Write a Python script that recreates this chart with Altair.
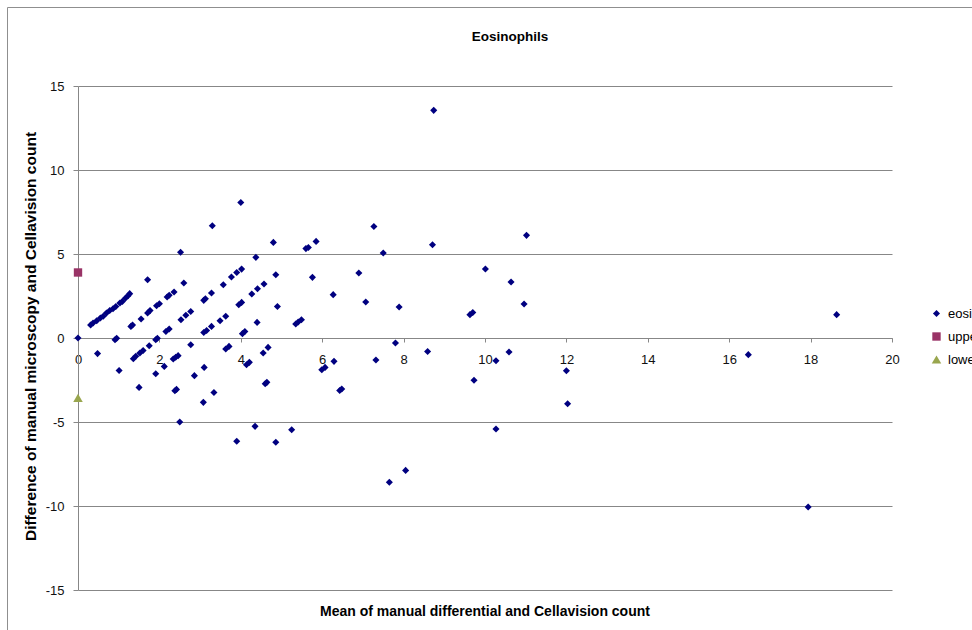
import altair as alt
import pandas as pd

# ---- data ----
eos_mean = [
    0.00, 1.71,
    0.31, 0.37, 0.46, 0.55, 0.62, 0.70, 0.78, 0.86, 0.93, 1.03, 1.09, 1.17, 1.23, 1.27,
    0.91, 0.95, 1.30, 1.34, 1.55, 1.71, 1.77, 1.93, 2.00, 2.19, 2.24, 2.36, 2.60,
    1.36, 1.42, 1.52, 1.60, 1.75, 1.91, 1.95, 2.16, 2.24, 2.53, 2.65, 2.77, 3.09, 3.13,
    3.28, 3.57, 3.77, 3.90, 4.02,
    1.91, 2.12, 2.34, 2.40, 2.46, 2.77, 3.09, 3.16, 3.28, 3.49, 3.63, 3.95, 4.02, 4.27,
    4.41, 4.57, 4.86,
    3.63, 3.71, 4.04, 4.10, 4.40, 4.90,
    0.48, 1.01, 1.50, 2.38, 2.42, 2.50, 2.86, 3.10, 3.08, 3.34, 4.14, 4.21, 3.90, 4.35,
    4.00, 3.30, 2.52, 4.37, 4.80, 5.85, 5.60, 5.66, 7.27, 7.50, 8.71, 5.76, 6.90, 6.27,
    7.07, 7.89, 5.35, 5.41, 5.49, 7.80, 8.59, 4.55, 4.67, 6.29, 7.32, 5.99, 6.07, 4.60,
    4.64, 6.48, 6.43, 4.86, 5.25, 7.65, 8.05, 8.74, 11.02, 10.01, 10.64, 10.96, 9.63,
    9.70, 10.59, 10.27, 9.73, 12.00, 12.03, 10.27, 18.64, 16.47, 17.94,
]
eos_diff = [
    0.00, 3.47,
    0.77, 0.89, 1.03, 1.19, 1.29, 1.49, 1.64, 1.74, 1.88, 2.08, 2.18, 2.38, 2.52, 2.64,
    -0.10, -0.02, 0.69, 0.77, 1.13, 1.49, 1.63, 1.92, 2.04, 2.44, 2.54, 2.74, 3.27,
    -1.23, -1.09, -0.89, -0.74, -0.46, -0.10, -0.02, 0.39, 0.54, 1.09, 1.35, 1.58, 2.24, 2.34,
    2.68, 3.17, 3.63, 3.90, 4.10,
    -2.13, -1.69, -1.25, -1.15, -1.05, -0.40, 0.33, 0.45, 0.69, 1.03, 1.29, 1.98, 2.12, 2.62,
    2.93, 3.21, 3.77,
    -0.65, -0.50, 0.26, 0.39, 0.93, 1.88,
    -0.93, -1.93, -2.94, -3.14, -3.06, -5.00, -2.24, -1.75, -3.83, -3.24, -1.59, -1.45, -6.15, -5.26,
    8.07, 6.68, 5.10, 4.80, 5.69, 5.75, 5.32, 5.39, 6.64, 5.06, 5.55, 3.61, 3.87, 2.58,
    2.14, 1.85, 0.83, 0.95, 1.09, -0.30, -0.80, -0.89, -0.56, -1.39, -1.31, -1.89, -1.75, -2.72,
    -2.64, -3.04, -3.12, -6.21, -5.46, -8.59, -7.88, 13.55, 6.11, 4.11, 3.33, 2.02, 1.39,
    1.52, -0.83, -1.35, -2.52, -1.95, -3.91, -5.42, 1.39, -0.99, -10.06,
]
limit_names = ["upper limit", "lower limit"]
limit_mean = [0.0, 0.0]
limit_diff = [3.90, -3.57]

series_names = ["eosinophils", "upper limit", "lower limit"]
series_colors = ["#000080", "#993366", "#99A64E"]
series_shapes = ["diamond", "square", "triangle-up"]
series_sizes = [50, 90, 110]

y_ticks = [-15, -10, -5, 0, 5, 10, 15]
x_ticks = [0, 2, 4, 6, 8, 10, 12, 14, 16, 18, 20]

chart_title = "Eosinophils"
x_title = "Mean of manual differential and Cellavision count"
y_title = "Difference of manual microscopy and Cellavision count"

# ---- build tables ----
df = pd.DataFrame({
    "mean": eos_mean + limit_mean,
    "diff": eos_diff + limit_diff,
    "series": ["eosinophils"] * len(eos_mean) + limit_names,
})

W, H = 814, 504
GRID = "#878787"
FONT = "Liberation Sans"

x_scale = alt.Scale(domain=[0, 20], nice=False, zero=False)
y_scale = alt.Scale(domain=[-15, 15], nice=False, zero=False)

points = alt.Chart(df).mark_point(filled=True, opacity=1, strokeWidth=0).encode(
    x=alt.X("mean:Q", scale=x_scale, axis=alt.Axis(
        values=x_ticks, title=None, offset=-(H / 2), grid=False,
        domainColor=GRID, tickColor=GRID, tickSize=4, labelPadding=11,
        labelFontSize=13, labelColor="#111111", labelFont=FONT,
        labelExpr="'' + datum.value",
        labelFlush=False, labelOverlap=False)),
    y=alt.Y("diff:Q", scale=y_scale, axis=alt.Axis(
        values=y_ticks, title=y_title, grid=True, gridColor=GRID,
        domainColor=GRID, tickColor=GRID, tickSize=5, labelPadding=9,
        labelFontSize=13, labelColor="#111111", labelFont=FONT,
        labelExpr="'' + datum.value",
        titleFont=FONT, titleFontSize=15.5, titleFontWeight="bold",
        titleColor="#000000", titleX=-48, titleY=250, titleAngle=270,
        titleAlign="center", titleBaseline="middle")),
    color=alt.Color("series:N", scale=alt.Scale(domain=series_names, range=series_colors),
                    legend=alt.Legend(title=None, orient="none", legendX=852, legendY=221,
                                      labelFont=FONT, labelFontSize=13, labelColor="#000000",
                                      symbolSize=50, labelOffset=5, rowPadding=9, padding=0,
                                      symbolStrokeWidth=0)),
    shape=alt.Shape("series:N", scale=alt.Scale(domain=series_names, range=series_shapes)),
    size=alt.Size("series:N", scale=alt.Scale(domain=series_names, range=series_sizes), legend=None),
)

frame = alt.Chart(pd.DataFrame({"k": [0]})).mark_rect(
    fillOpacity=0, stroke="#8f8f8f", strokeWidth=1
).encode(
    x=alt.value(-70.5), x2=alt.value(W + 300), y=alt.value(-78.5), y2=alt.value(H + 300)
)

title_txt = alt.Chart(pd.DataFrame({"t": [chart_title]})).mark_text(
    font=FONT, fontSize=13.5, fontWeight="bold", color="#000000", baseline="middle", align="center"
).encode(text="t:N", x=alt.value(432), y=alt.value(-49))

xtitle_txt = alt.Chart(pd.DataFrame({"t": [x_title]})).mark_text(
    font=FONT, fontSize=14, fontWeight="bold", color="#000000", baseline="middle", align="center"
).encode(text="t:N", x=alt.value(407), y=alt.value(526))

chart = alt.layer(frame, points, title_txt, xtitle_txt).properties(
    width=W, height=H,
    autosize=alt.AutoSizeParams(type="none"),
    padding={"left": 78, "top": 86, "right": 80, "bottom": 40},
    background="#ffffff",
).configure_view(stroke="transparent")

chart.save("out.html", embed_options={"renderer": "svg", "actions": False})
